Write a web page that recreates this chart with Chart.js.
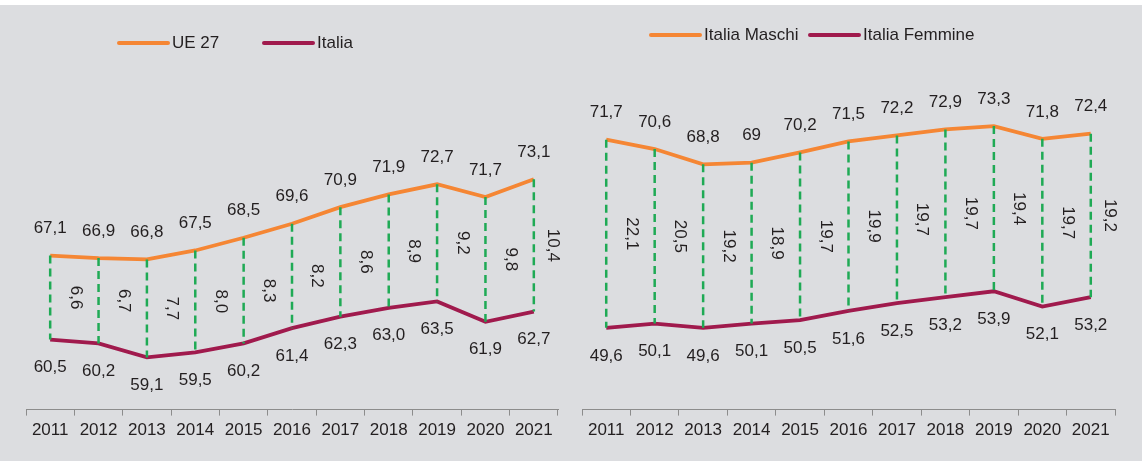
<!DOCTYPE html>
<html>
<head>
<meta charset="utf-8">
<script src="https://cdn.jsdelivr.net/npm/chart.js@4"></script>
<style>
    html, body { margin: 0; padding: 0; }
    body {
        width: 1142px;
        height: 461px;
        background: #dcdde0;
        position: relative;
        overflow: hidden;
    }
    .topStrip { position: absolute; left: 0; top: 0; width: 1142px; height: 5px; background: #ffffff; }
    .chartBox { position: absolute; top: 0; }
</style>
</head>
<body>
<div class="topStrip"></div>
<div class="chartBox" style="left:0px"><canvas id="chartUe" width="575" height="461"></canvas></div>
<div class="chartBox" style="left:575px"><canvas id="chartSesso" width="567" height="461"></canvas></div>
<script>
// Data
const years = ['2011', '2012', '2013', '2014', '2015', '2016', '2017', '2018', '2019', '2020', '2021'];

const ue27 = [67.1, 66.9, 66.8, 67.5, 68.5, 69.6, 70.9, 71.9, 72.7, 71.7, 73.1];
const italia = [60.5, 60.2, 59.1, 59.5, 60.2, 61.4, 62.3, 63.0, 63.5, 61.9, 62.7];
const gapUeItalia = [6.6, 6.7, 7.7, 8.0, 8.3, 8.2, 8.6, 8.9, 9.2, 9.8, 10.4];

const italiaMaschi = [71.7, 70.6, 68.8, 69, 70.2, 71.5, 72.2, 72.9, 73.3, 71.8, 72.4];
const italiaFemmine = [49.6, 50.1, 49.6, 50.1, 50.5, 51.6, 52.5, 53.2, 53.9, 52.1, 53.2];
const gapMaschiFemmine = [22.1, 20.5, 19.2, 18.9, 19.7, 19.9, 19.7, 19.7, 19.4, 19.7, 19.2];

const ORANGE = '#f58634';
const PURPLE = '#a01a4d';
const GREEN = '#1faa55';
const TEXT = '#231f20';
const AXIS = '#8c8c8c';
const FONT = '"Liberation Sans", Arial, sans-serif';

Chart.defaults.font.family = FONT;
Chart.defaults.color = TEXT;

const fixed1 = v => v.toFixed(1).replace('.', ',');
const plain = v => String(v).replace('.', ',');

// dashed connectors, value labels and the legend
const gapPlugin = {
    id: 'gapPlugin',
    afterDatasetsDraw(chart, args, opts) {
        const ctx = chart.ctx;
        const top = chart.getDatasetMeta(0).data;
        const bottom = chart.getDatasetMeta(1).data;
        const upper = chart.data.datasets[0].data;
        const lower = chart.data.datasets[1].data;

        ctx.save();
        // green dashed lines between the two series
        ctx.strokeStyle = GREEN;
        ctx.lineWidth = 2.5;
        ctx.setLineDash([8, 5]);
        top.forEach((pt, i) => {
            ctx.beginPath();
            ctx.moveTo(pt.x, pt.y);
            ctx.lineTo(bottom[i].x, bottom[i].y);
            ctx.stroke();
        });
        ctx.setLineDash([]);

        ctx.font = '17px ' + FONT;
        ctx.fillStyle = TEXT;
        ctx.textAlign = 'center';
        ctx.textBaseline = 'middle';

        top.forEach((pt, i) => {
            ctx.fillText(opts.fmt(upper[i]), pt.x, pt.y - 27);
            ctx.fillText(opts.fmt(lower[i]), bottom[i].x, bottom[i].y + 28);

            // rotated gap value
            const step = i < top.length - 1 ? (top[i + 1].x - pt.x) / 2 + 1 : 19;
            ctx.save();
            ctx.translate(pt.x + step, (pt.y + bottom[i].y) / 2);
            ctx.rotate(Math.PI / 2);
            ctx.fillText(fixed1(opts.gaps[i]), 0, 0);
            ctx.restore();
        });

        // legend
        ctx.textAlign = 'left';
        ctx.lineCap = 'round';
        ctx.lineWidth = 4;
        chart.data.datasets.forEach((ds, i) => {
            const item = opts.legend[i];
            ctx.strokeStyle = ds.borderColor;
            ctx.beginPath();
            ctx.moveTo(item.x, opts.legendY);
            ctx.lineTo(item.x + 49, opts.legendY);
            ctx.stroke();
            ctx.fillText(ds.label, item.x + 53, opts.legendY);
        });
        ctx.restore();
    }
};

function buildChart(canvasId, seriesA, seriesB, labels, yMin, yMax, padding, pluginOpts) {
    return new Chart(document.getElementById(canvasId), {
        type: 'line',
        data: {
            labels: years,
            datasets: [
                { label: labels[0], data: seriesA, borderColor: ORANGE, backgroundColor: ORANGE },
                { label: labels[1], data: seriesB, borderColor: PURPLE, backgroundColor: PURPLE }
            ]
        },
        options: {
            responsive: false,
            animation: false,
            devicePixelRatio: 1,
            layout: { padding: padding },
            elements: {
                line: { borderWidth: 3.8, tension: 0, borderJoinStyle: 'miter' },
                point: { radius: 0, hoverRadius: 0 }
            },
            scales: {
                x: {
                    offset: true,
                    grid: {
                        offset: true,
                        drawOnChartArea: false,
                        drawTicks: true,
                        tickLength: 6,
                        color: AXIS
                    },
                    border: { color: AXIS, width: 1 },
                    ticks: {
                        color: TEXT,
                        font: { size: 17 },
                        padding: 5,
                        maxRotation: 0,
                        autoSkip: false
                    }
                },
                y: { display: false, min: yMin, max: yMax }
            },
            plugins: {
                legend: { display: false },
                tooltip: { enabled: false },
                gapPlugin: pluginOpts
            }
        },
        plugins: [gapPlugin]
    });
}

buildChart('chartUe', ue27, italia, ['UE 27', 'Italia'], 55, 75,
    { left: 26, right: 17, top: 155, bottom: 15 },
    { gaps: gapUeItalia, fmt: fixed1, legendY: 43, legend: [{ x: 119 }, { x: 264 }] });

buildChart('chartSesso', italiaMaschi, italiaFemmine, ['Italia Maschi', 'Italia Femmine'], 40, 80,
    { left: 7, right: 27, top: 69, bottom: 15 },
    { gaps: gapMaschiFemmine, fmt: plain, legendY: 35, legend: [{ x: 76 }, { x: 235 }] });
</script>
</body>
</html>
